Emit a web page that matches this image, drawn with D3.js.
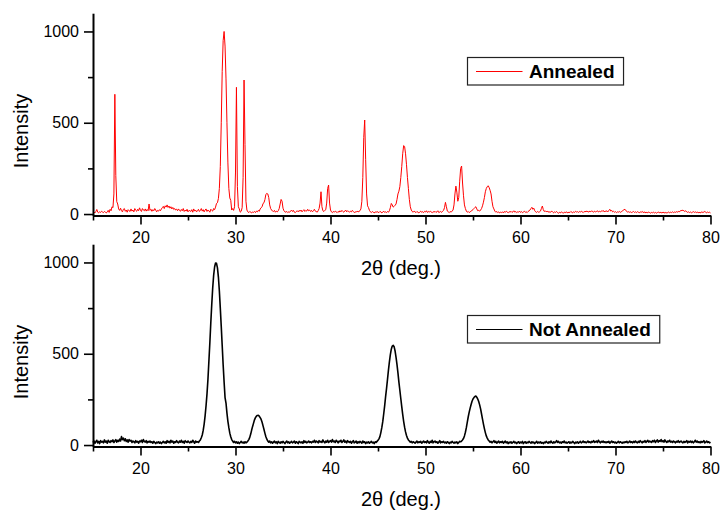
<!DOCTYPE html>
<html>
<head>
<meta charset="utf-8">
<script src="https://cdn.jsdelivr.net/npm/d3@7"></script>
<style>
  body { margin: 0; background: #fff; }
  svg { display: block; }
  text { font-family: "Liberation Sans", Arial, Helvetica, sans-serif; fill: #000; }
</style>
</head>
<body>
<svg id="chart" width="720" height="510"></svg>
<script>
// Diffraction scans: intensity per 0.1° step of 2θ, from 15° to 80°
const angleStart = 15;
const angleStep = 0.1;

const annealedCounts = [
  8, 12, 6, 14, 25, 10, 7, 12, 9, 15,
  11, 8, 14, 10, 6, 12, 20, 9, 26, 18,
  40, 35, 110, 656, 210, 68, 55, 28, 20, 32,
  18, 12, 26, 30, 15, 22, 10, 24, 18, 14,
  28, 16, 22, 12, 30, 20, 15, 26, 18, 34,
  20, 14, 30, 22, 18, 28, 16, 25, 18, 55,
  20, 26, 15, 24, 18, 30, 22, 12, 20, 16,
  24, 18, 28, 35, 42, 30, 45, 38, 50, 36,
  44, 32, 40, 28, 36, 25, 30, 22, 27, 18,
  28, 20, 15, 25, 18, 30, 14, 22, 16, 26,
  12, 20, 18, 14, 24, 10, 28, 16, 22, 12,
  18, 26, 14, 20, 30, 16, 24, 12, 22, 28,
  14, 22, 18, 10, 26, 20, 16, 30, 24, 38,
  58, 62, 85, 140, 260, 500, 780, 950, 1000, 920,
  740, 500, 280, 140, 88, 75, 22, 30, 20, 40,
  230, 694, 150, 40, 28, 10, 15, 35, 200, 734,
  380, 70, 22, 12, 8, 14, 10, 6, 12, 9,
  14, 8, 16, 12, 20, 15, 28, 35, 40, 58,
  62, 80, 108, 113, 110, 90, 50, 30, 22, 16,
  14, 20, 10, 16, 12, 18, 30, 55, 80, 70,
  32, 18, 12, 10, 14, 8, 12, 10, 16, 22,
  14, 20, 10, 8, 14, 18, 12, 20, 15, 22,
  12, 18, 24, 14, 20, 16, 26, 18, 22, 14,
  20, 12, 18, 26, 16, 14, 10, 18, 30, 60,
  122, 40, 18, 14, 20, 24, 60, 140, 159, 60,
  22, 12, 8, 14, 10, 16, 12, 8, 14, 10,
  18, 12, 20, 14, 10, 16, 22, 12, 18, 14,
  10, 16, 12, 20, 14, 8, 12, 10, 16, 12,
  14, 18, 28, 70, 200, 420, 515, 300, 110, 45,
  35, 20, 12, 8, 14, 10, 6, 12, 9, 14,
  10, 8, 14, 12, 6, 10, 16, 9, 12, 8,
  14, 10, 18, 35, 58, 50, 38, 42, 48, 55,
  80, 110, 125, 150, 200, 260, 330, 375, 370, 330,
  270, 200, 140, 80, 40, 22, 14, 10, 16, 12,
  8, 14, 10, 6, 12, 16, 9, 13, 8, 15,
  11, 18, 9, 14, 10, 16, 12, 7, 13, 10,
  15, 9, 12, 18, 8, 11, 14, 9, 16, 20,
  35, 64, 40, 16, 12, 8, 14, 10, 16, 22,
  50, 110, 153, 120, 70, 90, 180, 250, 263, 170,
  100, 50, 30, 16, 10, 14, 8, 12, 16, 20,
  24, 30, 36, 40, 28, 18, 20, 16, 22, 30,
  45, 65, 90, 122, 140, 150, 155, 145, 130, 110,
  70, 40, 28, 16, 10, 14, 8, 12, 6, 10,
  8, 12, 6, 14, 9, 16, 11, 7, 13, 10,
  15, 9, 12, 18, 10, 14, 8, 12, 10, 16,
  9, 13, 8, 11, 15, 10, 12, 8, 14, 18,
  22, 30, 37, 26, 32, 18, 12, 9, 14, 10,
  12, 16, 30, 44, 24, 14, 18, 12, 16, 10,
  14, 9, 12, 16, 10, 7, 12, 9, 14, 8,
  4, 10, 6, 12, 8, 5, 10, 7, 12, 9,
  6, 11, 8, 14, 10, 7, 12, 9, 15, 11,
  13, 9, 14, 10, 16, 12, 8, 14, 11, 17,
  12, 15, 10, 16, 12, 18, 13, 10, 16, 12,
  14, 18, 11, 15, 12, 17, 14, 20, 12, 16,
  14, 18, 12, 20, 26, 16, 20, 12, 15, 10,
  13, 8, 12, 10, 14, 9, 12, 16, 20, 24,
  26, 18, 14, 10, 13, 9, 12, 8, 11, 14,
  9, 12, 8, 13, 10, 7, 12, 9, 14, 10,
  8, 12, 6, 10, 7, 11, 8, 5, 9, 7,
  10, 6, 9, 5, 8, 11, 7, 10, 6, 9,
  7, 10, 5, 9, 6, 8, 11, 7, 10, 8,
  12, 8, 11, 9, 13, 10, 14, 12, 16, 20,
  18, 22, 17, 14, 18, 12, 9, 12, 8, 11,
  7, 10, 13, 9, 12, 8, 11, 7, 10, 6,
  9, 12, 8, 11, 14, 10, 7, 11, 8, 10,
  6
];

const notAnnealedCounts = [
  14, 22, 10, 18, 26, 12, 20, 8, 24, 16,
  20, 12, 28, 16, 22, 10, 26, 18, 14, 24,
  18, 28, 14, 22, 30, 16, 26, 20, 32, 22,
  46, 30, 38, 24, 34, 20, 28, 16, 30, 22,
  26, 14, 22, 18, 12, 24, 16, 20, 10, 22,
  18, 26, 14, 30, 20, 16, 24, 12, 20, 16,
  22, 14, 18, 10, 20, 14, 8, 16, 12, 18,
  10, 16, 8, 14, 20, 12, 18, 10, 24, 14,
  20, 12, 26, 16, 22, 10, 18, 14, 24, 16,
  12, 22, 16, 26, 14, 20, 10, 24, 18, 14,
  22, 16, 12, 20, 14, 26, 18, 10, 22, 16,
  18, 14, 22, 28, 40, 55, 80, 115, 160, 215,
  280, 360, 460, 560, 670, 770, 860, 930, 975, 997,
  995, 970, 920, 845, 750, 650, 545, 440, 345, 260,
  230, 175, 130, 95, 65, 45, 30, 22, 14, 20,
  12, 18, 10, 16, 8, 14, 20, 12, 16, 10,
  18, 12, 16, 22, 30, 42, 60, 82, 102, 120,
  138, 150, 158, 162, 163, 158, 150, 140, 125, 105,
  85, 64, 45, 32, 22, 16, 22, 12, 18, 10,
  16, 22, 12, 18, 8, 20, 14, 10, 18, 12,
  20, 14, 8, 16, 22, 12, 18, 10, 14, 20,
  12, 16, 22, 10, 18, 14, 8, 20, 16, 12,
  18, 10, 24, 14, 20, 12, 16, 22, 14, 18,
  12, 20, 16, 26, 14, 22, 18, 12, 24, 16,
  20, 14, 28, 18, 12, 22, 16, 26, 14, 20,
  24, 16, 30, 18, 22, 14, 26, 20, 12, 22,
  18, 26, 14, 20, 28, 16, 22, 12, 24, 18,
  14, 20, 10, 18, 24, 12, 16, 22, 10, 18,
  12, 20, 16, 10, 22, 14, 18, 8, 16, 12,
  18, 10, 14, 20, 12, 16, 8, 18, 14, 20,
  26, 34, 46, 68, 95, 128, 170, 215, 265, 310,
  360, 410, 455, 495, 525, 542, 546, 538, 515, 480,
  440, 395, 345, 300, 255, 210, 168, 130, 98, 72,
  52, 38, 28, 22, 16, 20, 12, 18, 14, 10,
  16, 22, 12, 18, 14, 20, 10, 16, 22, 14,
  18, 12, 24, 16, 10, 20, 14, 26, 12, 18,
  22, 14, 18, 10, 16, 24, 12, 18, 14, 20,
  12, 16, 10, 18, 14, 8, 16, 12, 20, 14,
  10, 16, 12, 18, 8, 14, 20, 18, 22, 28,
  36, 50, 70, 95, 125, 155, 180, 202, 222, 240,
  252, 260, 266, 268, 262, 252, 238, 220, 198, 170,
  142, 115, 90, 68, 50, 38, 28, 22, 16, 20,
  12, 18, 24, 14, 20, 10, 16, 22, 12, 18,
  14, 20, 10, 16, 22, 12, 18, 8, 16, 12,
  18, 10, 14, 20, 12, 16, 8, 14, 18, 10,
  16, 12, 20, 8, 14, 18, 10, 16, 12, 20,
  14, 10, 18, 12, 16, 8, 14, 20, 10, 16,
  12, 18, 10, 14, 8, 16, 12, 20, 14, 10,
  18, 12, 22, 14, 10, 18, 12, 16, 24, 14,
  20, 12, 16, 10, 18, 14, 22, 12, 16, 10,
  14, 18, 10, 16, 12, 20, 14, 8, 16, 12,
  18, 10, 14, 20, 12, 16, 22, 14, 18, 12,
  16, 22, 14, 18, 12, 20, 16, 24, 14, 18,
  22, 14, 26, 18, 12, 20, 16, 22, 14, 18,
  12, 18, 14, 20, 10, 16, 22, 14, 18, 12,
  16, 10, 14, 20, 12, 18, 14, 10, 16, 12,
  18, 14, 20, 12, 16, 22, 14, 18, 12, 20,
  14, 22, 16, 12, 20, 14, 24, 18, 12, 20,
  16, 24, 14, 20, 26, 16, 22, 18, 14, 24,
  18, 26, 14, 22, 28, 16, 24, 20, 30, 18,
  24, 16, 28, 20, 14, 22, 18, 26, 16, 20,
  14, 22, 18, 12, 20, 16, 24, 14, 18, 22,
  16, 12, 20, 14, 18, 24, 12, 20, 16, 22,
  14, 20, 12, 18, 26, 16, 22, 14, 18, 12,
  20, 14, 18, 24, 12, 16, 22, 14, 18, 12,
  16
];

const seriesNames = ["Annealed", "Not Annealed"];
const seriesColors = ["#ff0000", "#000000"];
const xMajorTicks = [20, 30, 40, 50, 60, 70, 80];
const xMinorTicks = [15, 25, 35, 45, 55, 65, 75];
const yMajorTicks = [0, 500, 1000];
const yMinorTicks = [250, 750];
const xTitle = "2\u03B8 (deg.)";
const yTitle = "Intensity";

const svg = d3.select("#chart");
const x = d3.scaleLinear().domain([15, 80]).range([93, 710.5]);

// One stacked panel: scan line, left/bottom axes, titles and legend box
function drawPanel(opts) {
  const { bottom, top, counts, color, name, lineWidth, legendY, titleY, yTitleY } = opts;
  const y = d3.scaleLinear().domain([-8, 1100]).range([bottom, top]);
  const g = svg.append("g");

  const line = d3.line()
    .x((d, i) => x(angleStart + i * angleStep))
    .y(d => y(d))
    .curve(d3.curveLinear);

  g.append("path")
    .datum(counts)
    .attr("fill", "none")
    .attr("stroke", color)
    .attr("stroke-width", lineWidth)
    .attr("stroke-linejoin", "round")
    .attr("d", line);

  // bottom axis
  g.append("g")
    .attr("transform", `translate(0,${bottom})`)
    .call(d3.axisBottom(x).tickValues(xMajorTicks).tickFormat(d3.format("d"))
      .tickSize(9).tickPadding(7).tickSizeOuter(0));
  g.append("g")
    .attr("transform", `translate(0,${bottom})`)
    .call(d3.axisBottom(x).tickValues(xMinorTicks).tickSize(5).tickFormat(""))
    .call(s => s.select(".domain").remove());

  // left axis
  g.append("g")
    .attr("transform", "translate(93,0)")
    .call(d3.axisLeft(y).tickValues(yMajorTicks).tickFormat(d3.format("d"))
      .tickSize(9).tickPadding(5).tickSizeOuter(0));
  g.append("g")
    .attr("transform", "translate(93,0)")
    .call(d3.axisLeft(y).tickValues(yMinorTicks).tickSize(5).tickFormat(""))
    .call(s => s.select(".domain").remove());

  g.selectAll(".domain").attr("stroke", "#000").attr("stroke-width", 2);
  g.selectAll(".tick line").attr("stroke", "#000").attr("stroke-width", 1.6);
  g.selectAll(".tick text")
    .attr("font-family", "'Liberation Sans', Arial, sans-serif")
    .attr("font-size", 16)
    .attr("fill", "#000");

  // axis titles
  g.append("text")
    .attr("x", 401)
    .attr("y", titleY)
    .attr("text-anchor", "middle")
    .attr("font-size", 20)
    .text(xTitle);

  g.append("text")
    .attr("transform", `translate(27.5,${yTitleY}) rotate(-90)`)
    .attr("text-anchor", "middle")
    .attr("font-size", 20)
    .text(yTitle);

  // legend
  const lg = g.append("g").attr("transform", `translate(467.5,${legendY})`);
  const label = lg.append("text")
    .attr("x", 61.5)
    .attr("y", 20)
    .attr("font-size", 19)
    .attr("font-weight", "bold")
    .text(name);
  const w = 61.5 + label.node().getComputedTextLength() + 9;
  lg.insert("rect", "text")
    .attr("x", 0).attr("y", 0)
    .attr("width", w).attr("height", 27.5)
    .attr("fill", "#fff")
    .attr("stroke", "#222")
    .attr("stroke-width", 1.2);
  lg.append("line")
    .attr("x1", 8.5).attr("x2", 55)
    .attr("y1", 14).attr("y2", 14)
    .attr("stroke", color)
    .attr("stroke-width", 1.2);
}

drawPanel({
  bottom: 215.5, top: 13.2, counts: annealedCounts,
  color: seriesColors[0], name: seriesNames[0], lineWidth: 1,
  legendY: 57.5, titleY: 275, yTitleY: 131
});

drawPanel({
  bottom: 446.5, top: 244.2, counts: notAnnealedCounts,
  color: seriesColors[1], name: seriesNames[1], lineWidth: 1.6,
  legendY: 315.5, titleY: 505.5, yTitleY: 362
});
</script>
</body>
</html>
